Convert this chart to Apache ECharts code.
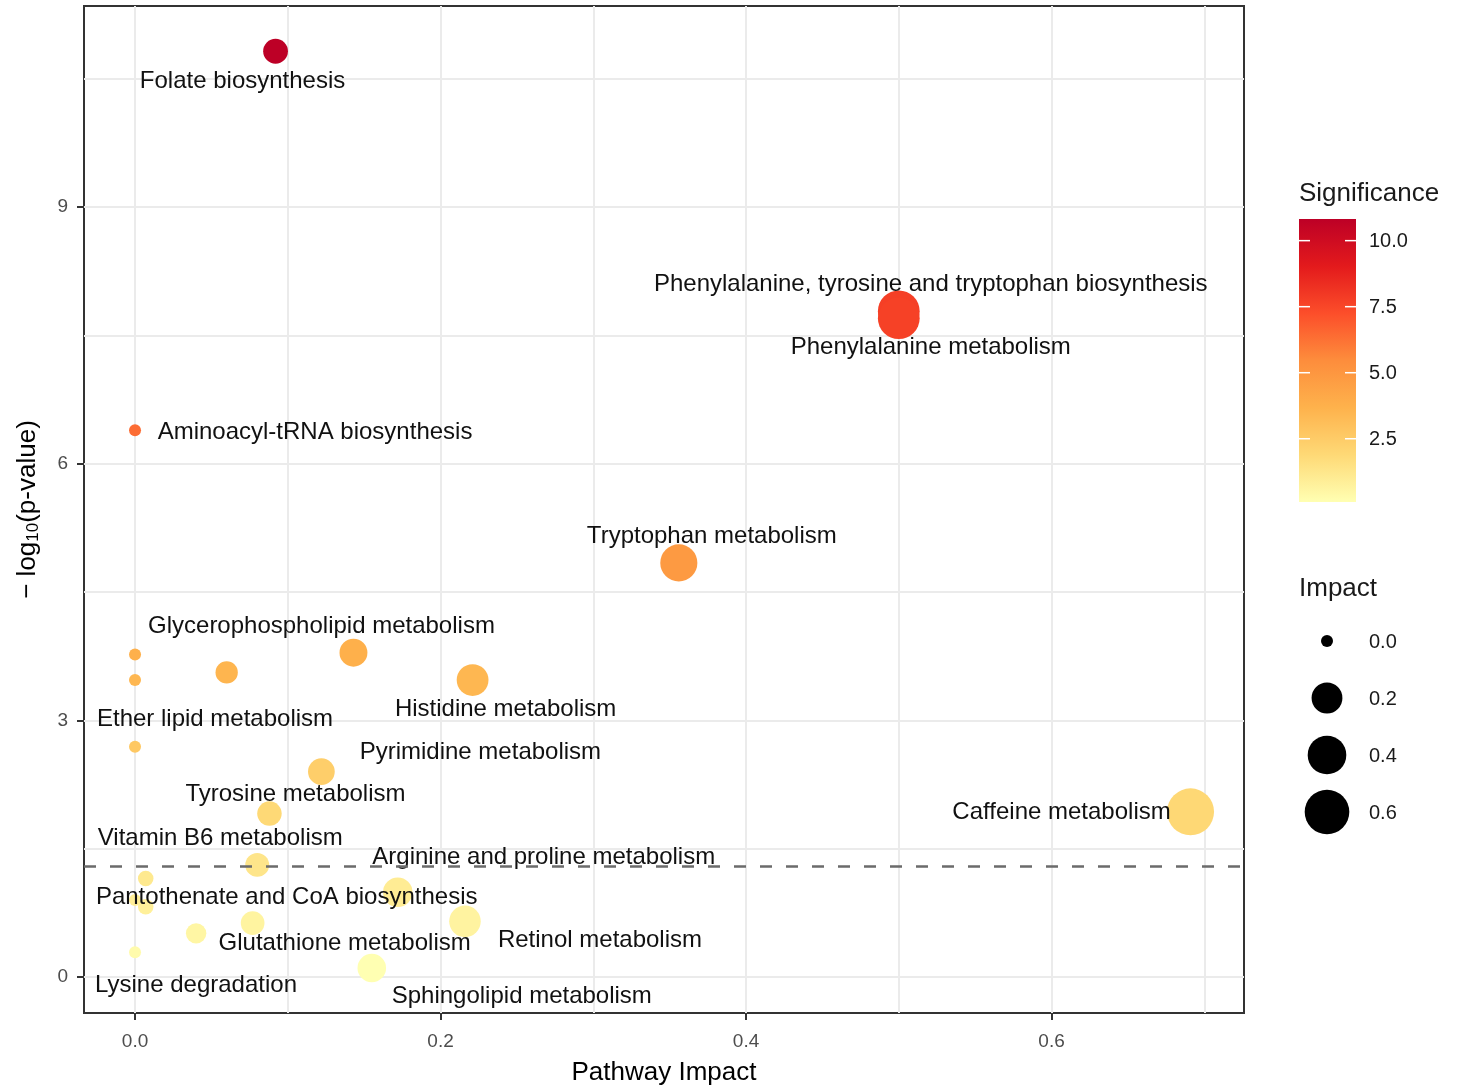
<!DOCTYPE html>
<html>
<head>
<meta charset="utf-8">
<script src="https://cdn.jsdelivr.net/npm/echarts@6/dist/echarts.min.js"></script>
<style>
  html, body { margin: 0; padding: 0; background: #ffffff; }
  #chart { width: 1459px; height: 1086px; }
</style>
</head>
<body>
<div id="chart"></div>
<script>
// ---- Pathway enrichment results ----
const pathwayLabels = [
  'Folate biosynthesis',
  'Phenylalanine, tyrosine and tryptophan biosynthesis',
  'Phenylalanine metabolism',
  'Aminoacyl-tRNA biosynthesis',
  'Tryptophan metabolism',
  'Glycerophospholipid metabolism',
  '',
  '',
  '',
  'Histidine metabolism',
  'Ether lipid metabolism',
  'Pyrimidine metabolism',
  'Tyrosine metabolism',
  'Vitamin B6 metabolism',
  '',
  'Arginine and proline metabolism',
  '',
  'Pantothenate and CoA biosynthesis',
  'Glutathione metabolism',
  '',
  'Retinol metabolism',
  'Lysine degradation',
  'Sphingolipid metabolism',
  'Caffeine metabolism'
];
const pathwayImpact = [
  0.092, 0.500, 0.500, 0.000, 0.356, 0.143, 0.000, 0.000, 0.060, 0.221,
  0.000, 0.122, 0.088, 0.080, 0.007, 0.172, 0.000, 0.007, 0.077, 0.040,
  0.216, 0.000, 0.155, 0.691
];
const negLog10P = [
  10.82, 7.78, 7.70, 6.39, 4.84, 3.79, 3.77, 3.47, 3.56, 3.47,
  2.69, 2.40, 1.91, 1.31, 1.15, 0.99, 0.90, 0.82, 0.63, 0.51,
  0.65, 0.29, 0.105, 1.93
];

// axis ticks and grid values
const xTickValues = [0, 0.2, 0.4, 0.6];
const yTickValues = [0, 3, 6, 9];
const xGridValues = [0, 0.1, 0.2, 0.3, 0.4, 0.5, 0.6, 0.7];
const yGridValues = [0, 1.5, 3, 4.5, 6, 7.5, 9, 10.5];
const significanceTicks = [10.0, 7.5, 5.0, 2.5];
const impactLegendValues = [0.0, 0.2, 0.4, 0.6];
const pThreshold = 1.30103; // -log10(0.05)

// text placement of each pathway label relative to its point (px)
const labelNudge = [
  [-33, 30], [32, -27], [32, 29], [180, 2], [33, -27], [-32, -26],
  [0, 0], [0, 0], [0, 0], [33, 29], [80, -27], [159, -19],
  [26, -19], [-37, -27], [0, 0], [146, -35], [0, 0], [141, -9],
  [92, 20], [0, 0], [135, 19], [61, 33], [150, 28], [-129, 1]
];

const FONT = "'Liberation Sans', Arial, Helvetica, sans-serif";
const palette = ['#FFFFB2', '#FED976', '#FEB24C', '#FD8D3C', '#FC4E2A', '#E31A1C', '#BD0026'];

const maxImpact = Math.max(...pathwayImpact);
const sigMin = Math.min(...negLog10P);
const sigMax = Math.max(...negLog10P);

// point diameter: area scale over the impact range
function sizeOf(v) {
  return 12 + 35 * Math.sqrt(v / maxImpact);
}

const points = pathwayImpact.map((x, i) => ({
  value: [x, negLog10P[i]],
  name: pathwayLabels[i],
  label: {
    show: pathwayLabels[i] !== '',
    offset: labelNudge[i]
  }
}));

// colour bar geometry
const barLeft = 1299, barTop = 219, barW = 57, barH = 283;
const sigToY = v => barTop + (sigMax - v) / (sigMax - sigMin) * barH;

const graphics = [];
graphics.push({
  type: 'text', x: 1299, y: 194,
  style: { text: 'Significance', fontSize: 26, fontFamily: FONT, fill: '#1a1a1a', align: 'left', verticalAlign: 'middle' }
});
graphics.push({
  type: 'rect', x: barLeft, y: barTop,
  shape: { width: barW, height: barH },
  style: {
    fill: new echarts.graphic.LinearGradient(0, 0, 0, 1,
      palette.slice().reverse().map((c, i, arr) => ({ offset: i / (arr.length - 1), color: c })))
  }
});
significanceTicks.forEach(v => {
  const y = sigToY(v);
  graphics.push({ type: 'line', shape: { x1: barLeft, y1: y, x2: barLeft + 11, y2: y }, style: { stroke: '#ffffff', lineWidth: 1.5 } });
  graphics.push({ type: 'line', shape: { x1: barLeft + barW - 11, y1: y, x2: barLeft + barW, y2: y }, style: { stroke: '#ffffff', lineWidth: 1.5 } });
  graphics.push({
    type: 'text', x: 1369, y: y + 1,
    style: { text: v.toFixed(1), fontSize: 20, fontFamily: FONT, fill: '#1a1a1a', align: 'left', verticalAlign: 'middle' }
  });
});

// size legend
graphics.push({
  type: 'text', x: 1299, y: 589,
  style: { text: 'Impact', fontSize: 26, fontFamily: FONT, fill: '#1a1a1a', align: 'left', verticalAlign: 'middle' }
});
impactLegendValues.forEach((v, i) => {
  const y = 641 + i * 57;
  graphics.push({ type: 'circle', shape: { cx: 1327, cy: y, r: sizeOf(v) / 2 }, style: { fill: '#000000' } });
  graphics.push({
    type: 'text', x: 1369, y: y + 1,
    style: { text: v.toFixed(1), fontSize: 20, fontFamily: FONT, fill: '#1a1a1a', align: 'left', verticalAlign: 'middle' }
  });
});

const chart = echarts.init(document.getElementById('chart'), null, { renderer: 'canvas' });

chart.setOption({
  backgroundColor: '#ffffff',
  animation: false,
  textStyle: { fontFamily: FONT },
  grid: {
    left: 84, right: 215, top: 6, bottom: 73,
    outerBoundsMode: 'none',
    containLabel: false,
    show: true, borderColor: '#333333', borderWidth: 2, backgroundColor: 'transparent'
  },
  xAxis: {
    type: 'value',
    min: -0.0334, max: 0.726,
    name: 'Pathway Impact',
    nameLocation: 'middle',
    nameGap: 47,
    nameTextStyle: { fontSize: 26, color: '#000000', fontFamily: FONT },
    axisLine: { show: false, onZero: false },
    axisTick: { show: true, length: 7, customValues: xTickValues, lineStyle: { color: '#333333', width: 2 } },
    axisLabel: {
      customValues: xTickValues, fontSize: 19, color: '#4D4D4D', margin: 19, fontFamily: FONT,
      formatter: v => Number(v).toFixed(1)
    },
    splitLine: { show: false }
  },
  yAxis: {
    type: 'value',
    min: -0.421, max: 11.349,
    name: '− log{sub|10}(p-value)',
    nameLocation: 'middle',
    nameGap: 42,
    nameTextStyle: {
      fontSize: 26, color: '#000000', fontFamily: FONT,
      rich: { sub: { fontSize: 17, fontFamily: FONT, color: '#000000', verticalAlign: 'bottom', padding: [12, 0, 0, 0] } }
    },
    axisLine: { show: false, onZero: false },
    axisTick: { show: true, length: 7, customValues: yTickValues, lineStyle: { color: '#333333', width: 2 } },
    axisLabel: {
      customValues: yTickValues, fontSize: 19, color: '#4D4D4D', margin: 16, fontFamily: FONT,
      formatter: v => String(Math.round(v))
    },
    splitLine: { show: false }
  },
  visualMap: {
    show: false,
    type: 'continuous',
    seriesIndex: 1,
    dimension: 1,
    min: sigMin, max: sigMax,
    inRange: { color: palette }
  },
  series: [
    {
      // panel grid lines, kept beneath the points
      type: 'scatter',
      data: [],
      z: 0,
      silent: true,
      markLine: {
        z: 0,
        silent: true,
        animation: false,
        symbol: 'none',
        label: { show: false },
        lineStyle: { color: '#EBEBEB', width: 2, type: 'solid' },
        emphasis: { disabled: true },
        data: xGridValues.map(v => ({ xAxis: v })).concat(yGridValues.map(v => ({ yAxis: v })))
      }
    },
    {
      type: 'scatter',
      z: 2,
      data: points,
      symbol: 'circle',
      symbolSize: val => sizeOf(val[0]),
      itemStyle: { opacity: 1 },
      label: {
        position: 'inside',
        formatter: p => p.name,
        fontSize: 24,
        fontFamily: FONT,
        color: '#111111',
        textBorderWidth: 0,
        align: 'center',
        verticalAlign: 'middle'
      },
      emphasis: { disabled: true }
    },
    {
      // significance threshold p = 0.05
      type: 'scatter',
      data: [],
      z: 5,
      silent: true,
      markLine: {
        z: 10,
        silent: true,
        animation: false,
        symbol: 'none',
        label: { show: false },
        lineStyle: { color: '#6B6B6B', width: 2.5, type: [12, 14] },
        emphasis: { disabled: true },
        data: [{ yAxis: pThreshold }]
      }
    }
  ],
  graphic: graphics
});
</script>
</body>
</html>
